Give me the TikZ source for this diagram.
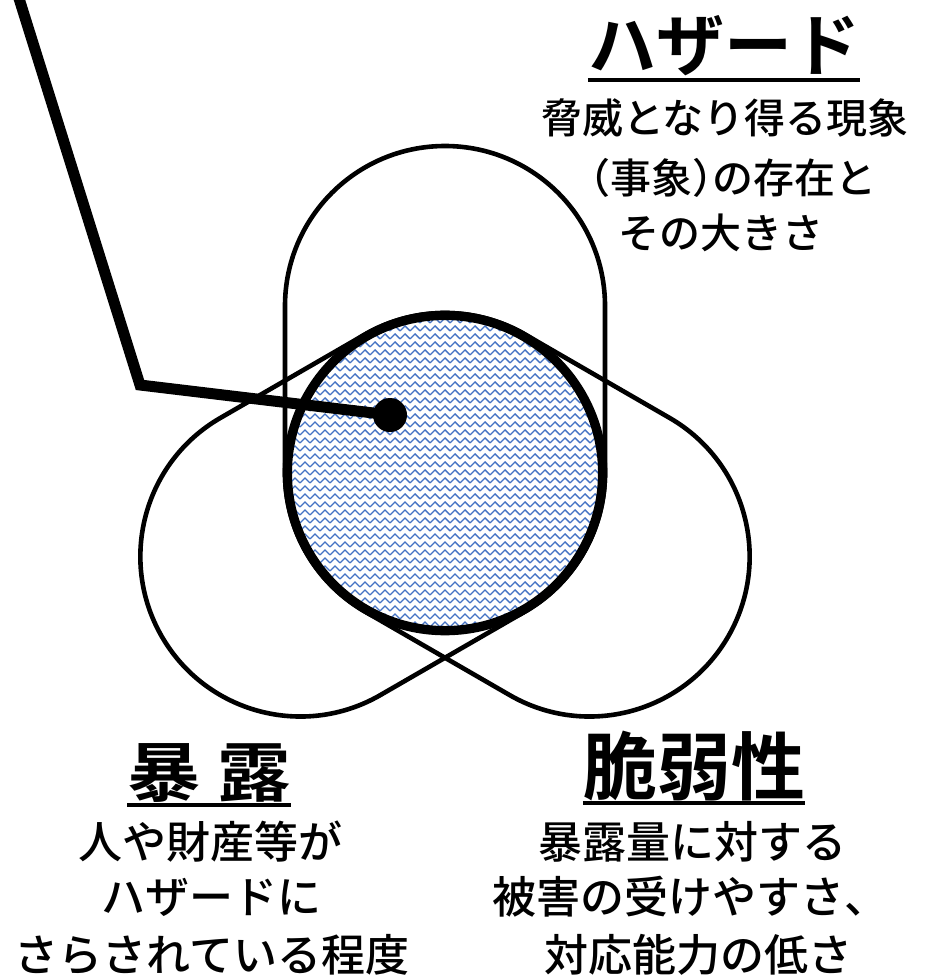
\documentclass[tikz,border=0pt]{standalone}
\usepackage{fontspec}
\usetikzlibrary{patterns.meta}
\newfontfamily\jp{Noto Sans CJK JP}[UprightFont={* Medium}, BoldFont={* Bold}]
\definecolor{patblue}{RGB}{68,114,196}
\tikzdeclarepattern{
  name=zzweave,
  type=uncolored,
  bottom left={(-1pt,-1pt)},
  top right={(11pt,9pt)},
  tile size={(10pt,8pt)},
  code={
    \draw[line width=1.4pt] (0,1pt) -- (5pt,6pt) -- (10pt,1pt);
  }
}
\tikzset{
  capsule/.style={draw=black, line width=4.6pt},
  ring/.style={draw=black, line width=6pt},
  pointer/.style={draw=black, line width=11pt, line join=miter},
  ttl/.style={inner sep=0pt, anchor=center, font=\jp\bfseries},
  desc/.style={inner sep=0pt, anchor=center},
  uline/.style={draw=black, line width=3.4pt},
}
\begin{document}
\begin{tikzpicture}[x=1pt,y=1pt]
\useasboundingbox (0,0) rectangle (942,-980);
\coordinate (C) at (445,-473);
% hazard capsule (vertical)
\draw[capsule] (285,-473) -- (285,-306) arc[start angle=180,end angle=0,radius=160]
  -- (605,-473) arc[start angle=0,end angle=-180,radius=160] -- cycle;
% exposure capsule (down-left)
\begin{scope}[shift={(C)}, rotate=210]
\draw[capsule] (0,-160) -- (167,-160) arc[start angle=-90,end angle=90,radius=160]
  -- (0,160) arc[start angle=90,end angle=270,radius=160] -- cycle;
\end{scope}
% vulnerability capsule (down-right)
\begin{scope}[shift={(C)}, rotate=-30]
\draw[capsule] (0,-160) -- (167,-160) arc[start angle=-90,end angle=90,radius=160]
  -- (0,160) arc[start angle=90,end angle=270,radius=160] -- cycle;
\end{scope}
% central risk circle
\fill[white] (C) circle[radius=156];
\fill[pattern=zzweave, pattern color=patblue] (C) circle[radius=156];
\draw[ring] (C) circle[radius=156];
% pointer
\coordinate (ptop) at (17,8);
\coordinate (pbend) at (140,-385);
\node[circle, fill=black, inner sep=0pt, minimum size=34pt] (dot) at (390,-415) {};
\draw[pointer] (ptop) -- (pbend) -- (dot.center);
% hazard text
\node[ttl, font=\jp\bfseries\fontsize{68}{68}\selectfont] (hz) at (724,-46) {ハザード};
\draw[uline] (hz.west |- 0,-80) -- (hz.east |- 0,-80);
\node[desc, font=\jp\fontsize{41}{41}\selectfont] (hz1) at (725,-118) {脅威となり得る現象};
\node[desc, font=\jp\fontsize{41}{41}\selectfont\addfontfeature{CharacterWidth=AlternateHalf}] (hz2) at (733,-178) {（事象）の存在と};
\node[desc, font=\jp\fontsize{41}{41}\selectfont] (hz3) at (721,-233) {その大きさ};
% exposure text
\node[ttl, font=\jp\bfseries\fontsize{72}{72}\selectfont] (ex) at (209,-773) {\scalebox{1.02}[0.9]{暴 露}};
\draw[uline] (ex.west |- 0,-805) -- (ex.east |- 0,-805);
\node[desc, font=\jp\fontsize{44}{44}\selectfont] (ex1) at (210,-842) {人や財産等が};
\node[desc, font=\jp\fontsize{44}{44}\selectfont] (ex2) at (211,-897) {ハザードに};
\node[desc, font=\jp\fontsize{44}{44}\selectfont] (ex3) at (212,-955) {さらされている程度};
% vulnerability text
\node[ttl, font=\jp\bfseries\fontsize{74}{74}\selectfont] (vu) at (694,-766) {脆弱性};
\draw[uline] (vu.west |- 0,-803) -- (vu.east |- 0,-803);
\node[desc, font=\jp\fontsize{44}{44}\selectfont] (vu1) at (692,-842) {暴露量に対する};
\node[desc, font=\jp\fontsize{44}{44}\selectfont] (vu2) at (690,-897) {被害の受けやすさ、};
\node[desc, font=\jp\fontsize{44}{44}\selectfont] (vu3) at (698,-955) {対応能力の低さ};
\end{tikzpicture}
\end{document}
